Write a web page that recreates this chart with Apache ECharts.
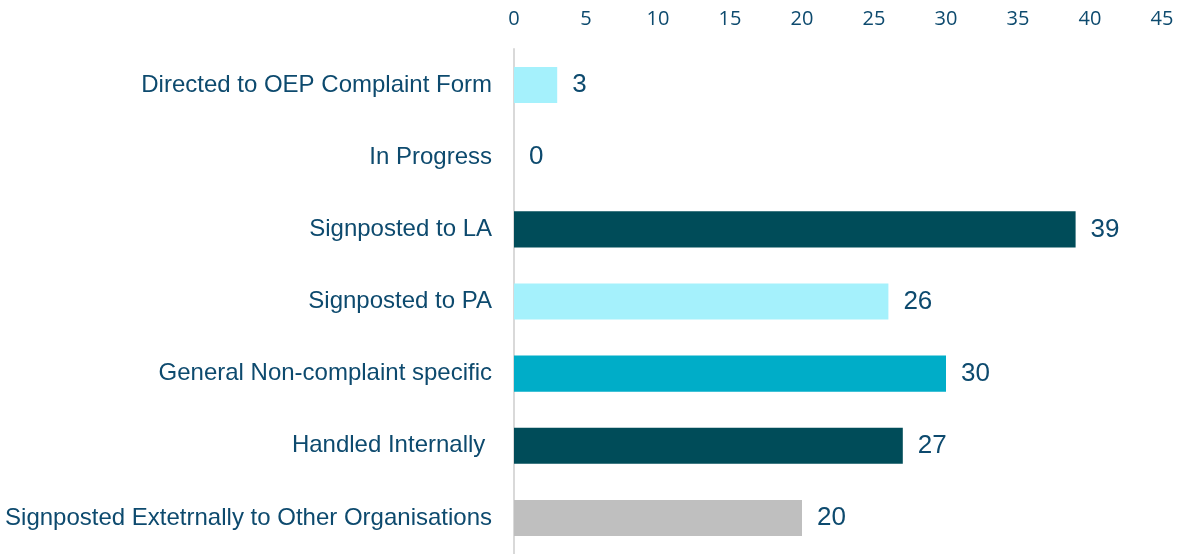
<!DOCTYPE html>
<html>
<head>
<meta charset="utf-8">
<script src="https://cdn.jsdelivr.net/npm/echarts@6/dist/echarts.min.js"></script>
<style>
html,body{margin:0;padding:0;background:#fff;}
#main{width:1186px;height:554px;}
</style>
</head>
<body>
<div id="main"></div>
<script>
// categories top to bottom
var categories = ['Directed to OEP Complaint Form', 'In Progress', 'Signposted to LA', 'Signposted to PA',
    'General Non-complaint specific', 'Handled Internally ', 'Signposted Extetrnally to Other Organisations'];
var values = [3, 0, 39, 26, 30, 27, 20];
var barColors = ['#a5f1fc', '#a5f1fc', '#004c59', '#a5f1fc', '#00adc8', '#004c59', '#bfbfbf'];
var xTicks = [0, 5, 10, 15, 20, 25, 30, 35, 40, 45];

var textColor = '#0d4a6e';
var sansFont = '"Liberation Sans", Arial, sans-serif';

var myChart = echarts.init(document.getElementById('main'));

var option = {
    animation: false,
    grid: {
        left: 514,
        right: 24,
        top: 49,
        height: 509
    },
    xAxis: {
        type: 'value',
        position: 'top',
        min: xTicks[0],
        max: xTicks[xTicks.length - 1],
        interval: 5,
        axisLine: { show: false },
        axisTick: { show: false },
        splitLine: { show: false },
        axisLabel: {
            color: textColor,
            fontSize: 20,
            fontFamily: '"Open Sans", sans-serif',
            margin: 20
        }
    },
    yAxis: {
        type: 'category',
        inverse: true,
        data: categories,
        axisLine: { show: true, lineStyle: { color: '#d9d9d9', width: 2 } },
        axisTick: { show: false },
        axisLabel: {
            color: textColor,
            fontSize: 24,
            fontFamily: sansFont,
            margin: 22
        }
    },
    series: [{
        type: 'bar',
        barWidth: '50%',
        data: values.map(function (v, i) {
            return { value: v, itemStyle: { color: barColors[i] } };
        }),
        label: {
            show: true,
            position: 'right',
            distance: 15,
            color: textColor,
            fontSize: 26,
            fontFamily: sansFont
        }
    }]
};
myChart.setOption(option);
</script>
</body>
</html>
